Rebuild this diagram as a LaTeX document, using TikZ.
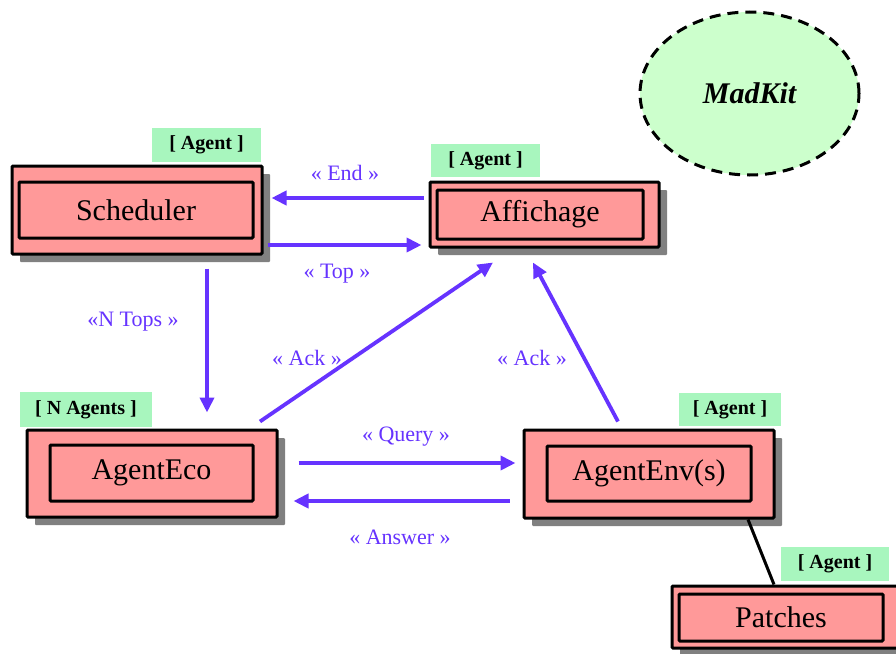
\documentclass[tikz,border=0pt]{standalone}
\usepackage{fontspec}
\setmainfont{Liberation Serif}
\usetikzlibrary{arrows.meta,shadows,shapes.geometric}
\definecolor{pinkbox}{RGB}{255,153,153}
\definecolor{greenlab}{RGB}{168,246,190}
\definecolor{ellgreen}{RGB}{204,255,204}
\definecolor{msgpurple}{RGB}{102,51,255}
\definecolor{shadowgray}{RGB}{128,128,128}
\tikzset{
  outerbox/.style={draw=black, line width=3pt, fill=pinkbox, rounded corners=1pt,
    drop shadow={shadow xshift=8pt, shadow yshift=-8pt, fill=shadowgray, opacity=1},
    inner sep=0pt},
  innerbox/.style={draw=black, line width=3pt, fill=pinkbox, rounded corners=1pt,
    inner sep=0pt, font=\fontsize{30}{34}\selectfont},
  agentlab/.style={fill=greenlab, inner sep=0pt, font=\bfseries\fontsize{20}{24}\selectfont},
  msg/.style={draw=msgpurple, line width=3.8pt, -{Triangle[length=15pt,width=14pt]}},
  msglab/.style={text=msgpurple, inner sep=0pt, font=\fontsize{22}{26}\selectfont},
}
\begin{document}
\begin{tikzpicture}[x=1pt,y=-1pt]
\useasboundingbox (0,0) rectangle (896,653);
\clip (0,0) rectangle (896,653);
\fill[white] (0,0) rectangle (896,653);

% MadKit ellipse
\node[ellipse, draw=black, fill=ellgreen, line width=3pt, dash pattern=on 11pt off 7pt,
  minimum width=219pt, minimum height=163pt, inner sep=0pt,
  font=\bfseries\itshape\fontsize{30}{34}\selectfont] (madkit) at (749.5,93.5) {MadKit};

% Boxes
\node[outerbox, minimum width=250pt, minimum height=88pt] (sched) at (137,210) {};
\node[innerbox, minimum width=234pt, minimum height=56pt] (schedin) at (136,210) {Scheduler};
\node[agentlab, minimum width=109pt, minimum height=34pt] (schedlab) at (206.5,145) {[ Agent ]};

\node[outerbox, minimum width=229pt, minimum height=65pt] (affich) at (544.5,214.5) {};
\node[innerbox, minimum width=206pt, minimum height=49pt] (affichin) at (540,214.5) {Affichage};
\node[agentlab, minimum width=109pt, minimum height=33pt] (affichlab) at (485.5,160.5) {[ Agent ]};

\node[outerbox, minimum width=250pt, minimum height=87pt] (eco) at (152,473.5) {};
\node[innerbox, minimum width=203pt, minimum height=56pt] (ecoin) at (151.5,473) {AgentEco};
\node[agentlab, minimum width=132pt, minimum height=35pt] (ecolab) at (86,409.5) {[ N Agents ]};

\node[outerbox, minimum width=250pt, minimum height=88pt] (env) at (649,474) {};
\node[innerbox, minimum width=204pt, minimum height=55pt] (envin) at (649,473.5) {AgentEnv(s)};
\node[agentlab, minimum width=102pt, minimum height=33pt] (envlab) at (730,409.5) {[ Agent ]};

\node[outerbox, minimum width=230pt, minimum height=62pt] (patch) at (787,617) {};
\node[innerbox, minimum width=204pt, minimum height=47pt] (patchin) at (781,617.5) {Patches};
\node[agentlab, minimum width=108pt, minimum height=34pt] (patchlab) at (835,564) {[ Agent ]};

% Patches link
\draw[black, line width=3pt] ([xshift=99pt]env.south) -- ([xshift=-13pt]patch.north);

% Messages
\draw[msg] ([xshift=-5pt,yshift=16.5pt]affich.west) -- ([xshift=8pt,yshift=12pt]sched.east);
\draw[msg] ([xshift=4pt,yshift=-35pt]sched.east) -- ([xshift=-7pt,yshift=-30.5pt]affich.west);
\draw[msg] ([xshift=70pt,yshift=-13pt]sched.south) -- ([xshift=55pt,yshift=16pt]eco.north);
\draw[msg] ([xshift=108pt,yshift=7pt]eco.north) -- ([xshift=-51.5pt,yshift=-14pt]affich.south);
\draw[msg] ([xshift=-31pt,yshift=7pt]env.north) -- ([xshift=-11.5pt,yshift=-14pt]affich.south);
\draw[msg] ([xshift=20pt,yshift=10.5pt]eco.east) -- ([xshift=-7pt,yshift=11pt]env.west);
\draw[msg] ([xshift=-13pt,yshift=-27pt]env.west) -- ([xshift=15pt,yshift=-27.5pt]eco.east);

% Message labels
\node[msglab] (lend) at (345,173) {« End »};
\node[msglab] (ltop) at (337,274) {« Top »};
\node[msglab] (lntops) at (133,322) {«N Tops »};
\node[msglab] (lack1) at (307,358) {« Ack »};
\node[msglab] (lack2) at (532,358) {« Ack »};
\node[msglab] (lquery) at (406,437) {« Query »};
\node[msglab] (lanswer) at (400,537) {« Answer »};
\end{tikzpicture}
\end{document}
